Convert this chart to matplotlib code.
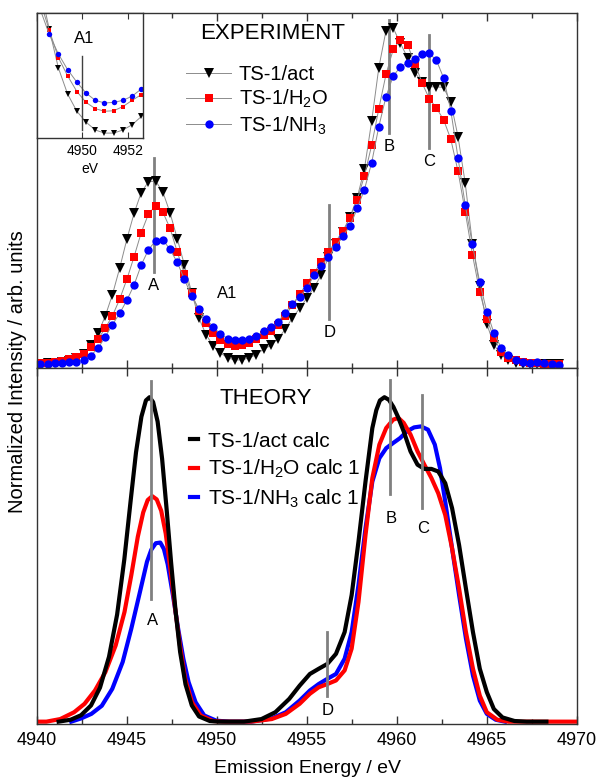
import matplotlib
matplotlib.use("Agg")
import matplotlib.pyplot as plt
from matplotlib.ticker import MultipleLocator

plt.rcParams['font.family'] = ['Liberation Sans', 'DejaVu Sans']
plt.rcParams['mathtext.fontset'] = 'custom'
plt.rcParams['mathtext.rm'] = 'Liberation Sans'
plt.rcParams['mathtext.it'] = 'Liberation Sans:italic'

# experimental spectra (normalized to TS-1/act maximum)
energy = [4940.19, 4940.59, 4940.99, 4941.39, 4941.79, 4942.19, 4942.59, 4942.99, 4943.39, 4943.79,
          4944.19, 4944.59, 4944.99, 4945.39, 4945.79, 4946.19, 4946.59, 4946.99, 4947.39, 4947.79,
          4948.19, 4948.59, 4948.99, 4949.39, 4949.79, 4950.19, 4950.59, 4950.99, 4951.39, 4951.79,
          4952.19, 4952.59, 4952.99, 4953.39, 4953.79, 4954.19, 4954.59, 4954.99, 4955.39, 4955.79,
          4956.19, 4956.59, 4956.99, 4957.39, 4957.79, 4958.19, 4958.59, 4958.99, 4959.39, 4959.79,
          4960.19, 4960.59, 4960.99, 4961.39, 4961.79, 4962.19, 4962.59, 4962.99, 4963.39, 4963.79,
          4964.19, 4964.59, 4964.99, 4965.39, 4965.79, 4966.19, 4966.59, 4966.99, 4967.39, 4967.79,
          4968.19, 4968.59, 4968.99]
exp_act = [0.004, 0.005, 0.007, 0.009, 0.013, 0.02, 0.033, 0.058, 0.094, 0.145,
           0.209, 0.287, 0.373, 0.450, 0.512, 0.544, 0.546, 0.514, 0.452, 0.375,
           0.297, 0.215, 0.14, 0.09, 0.057, 0.036, 0.021, 0.015, 0.015, 0.021,
           0.031, 0.047, 0.058, 0.078, 0.106, 0.14, 0.168, 0.198, 0.23, 0.267,
           0.32, 0.36, 0.395, 0.44, 0.497, 0.582, 0.723, 0.883, 0.993, 1.0,
           0.955, 0.912, 0.868, 0.84, 0.826, 0.826, 0.824, 0.78, 0.678, 0.54,
           0.36, 0.235, 0.122, 0.059, 0.03, 0.014, 0.006, 0.004, 0.003, 0.003,
           0.002, 0.002, 0.002]
exp_h2o = [0.005, 0.007, 0.009, 0.012, 0.017, 0.024, 0.033, 0.052, 0.077, 0.109,
           0.146, 0.195, 0.254, 0.321, 0.393, 0.448, 0.473, 0.454, 0.406, 0.336,
           0.27, 0.213, 0.16, 0.125, 0.095, 0.074, 0.062, 0.057, 0.058, 0.066,
           0.078, 0.089, 0.102, 0.118, 0.145, 0.178, 0.21, 0.242, 0.273, 0.307,
           0.336, 0.366, 0.398, 0.436, 0.49, 0.562, 0.652, 0.761, 0.863, 0.937,
           0.966, 0.95, 0.895, 0.838, 0.791, 0.763, 0.728, 0.67, 0.575, 0.455,
           0.328, 0.218, 0.137, 0.079, 0.04, 0.022, 0.015, 0.01, 0.007, 0.005,
           0.004, 0.003, 0.003]
exp_nh3 = [0.003, 0.004, 0.005, 0.006, 0.008, 0.01, 0.014, 0.028, 0.05, 0.083,
           0.12, 0.153, 0.192, 0.237, 0.297, 0.342, 0.369, 0.372, 0.343, 0.305,
           0.254, 0.205, 0.167, 0.137, 0.113, 0.092, 0.078, 0.073, 0.074, 0.078,
           0.086, 0.1, 0.112, 0.128, 0.155, 0.182, 0.203, 0.228, 0.266, 0.294,
           0.32, 0.35, 0.384, 0.412, 0.465, 0.521, 0.6, 0.708, 0.797, 0.858,
           0.885, 0.897, 0.908, 0.922, 0.925, 0.905, 0.852, 0.755, 0.615, 0.475,
           0.358, 0.247, 0.158, 0.094, 0.051, 0.03, 0.015, 0.008, 0.007, 0.008,
           0.005, 0.003, 0.0]

# calculated spectra
calc_act_E = [4941.2, 4941.87, 4942.45, 4943.0, 4943.5, 4944.0, 4944.45, 4944.85, 4945.2, 4945.5,
              4945.8, 4946.05, 4946.25, 4946.45, 4946.7, 4946.95, 4947.2, 4947.45, 4947.7, 4947.95,
              4948.25, 4948.6, 4949.0, 4949.6, 4950.1, 4951.5, 4952.47, 4953.24, 4954.01, 4954.59,
              4955.16, 4955.65, 4956.13, 4956.61, 4957.09, 4957.48, 4957.86, 4958.25, 4958.63, 4958.85,
              4959.05, 4959.3, 4959.55, 4959.8, 4960.05, 4960.37, 4960.75, 4961.14, 4961.52, 4961.91,
              4962.29, 4962.68, 4963.06, 4963.45, 4963.83, 4964.22, 4964.6, 4964.99, 4965.38, 4965.86,
              4966.53, 4967.2, 4968.3]
calc_act = [0.0, 0.006, 0.02, 0.05, 0.105, 0.2, 0.33, 0.5, 0.68, 0.83,
            0.94, 0.99, 1.0, 0.985, 0.925, 0.81, 0.655, 0.49, 0.34, 0.215,
            0.115, 0.05, 0.016, 0.002, 0.0, 0.0, 0.008, 0.029, 0.07, 0.111,
            0.147, 0.163, 0.178, 0.209, 0.276, 0.39, 0.555, 0.74, 0.905, 0.96,
            0.99, 1.0, 0.992, 0.97, 0.94, 0.895, 0.833, 0.792, 0.779, 0.779,
            0.771, 0.735, 0.658, 0.544, 0.41, 0.276, 0.163, 0.091, 0.039, 0.013,
            0.002, 0.0, 0.0]
calc_h2o_E = [4940.0, 4940.52, 4941.29, 4942.06, 4942.64, 4943.22, 4943.8, 4944.37, 4944.86, 4945.24,
              4945.6, 4945.9, 4946.15, 4946.4, 4946.65, 4946.9, 4947.15, 4947.4, 4947.65, 4947.94,
              4948.23, 4948.61, 4949.09, 4949.77, 4950.4, 4951.9, 4953.04, 4953.82, 4954.59, 4955.16,
              4955.65, 4956.13, 4956.61, 4957.09, 4957.48, 4957.86, 4958.25, 4958.63, 4959.02, 4959.4,
              4959.79, 4960.08, 4960.37, 4960.75, 4961.14, 4961.52, 4961.91, 4962.29, 4962.68, 4963.06,
              4963.45, 4963.83, 4964.22, 4964.6, 4964.99, 4965.57, 4966.2, 4970.0]
calc_h2o = [0.0, 0.0, 0.008, 0.029, 0.055, 0.096, 0.153, 0.235, 0.338, 0.452,
            0.57, 0.645, 0.683, 0.695, 0.685, 0.65, 0.58, 0.475, 0.359, 0.235,
            0.132, 0.06, 0.019, 0.002, 0.0, 0.0, 0.008, 0.024, 0.055, 0.086,
            0.106, 0.116, 0.127, 0.158, 0.225, 0.369, 0.575, 0.751, 0.854, 0.905,
            0.931, 0.936, 0.921, 0.885, 0.833, 0.792, 0.751, 0.704, 0.637, 0.534,
            0.41, 0.276, 0.163, 0.08, 0.029, 0.006, 0.0, 0.0]
calc_nh3_E = [4941.9, 4942.45, 4943.02, 4943.6, 4944.18, 4944.76, 4945.24, 4945.72, 4946.11, 4946.35,
              4946.6, 4946.85, 4947.05, 4947.26, 4947.55, 4947.84, 4948.13, 4948.42, 4948.81, 4949.29,
              4949.96, 4950.7, 4951.9, 4953.04, 4953.82, 4954.59, 4955.16, 4955.65, 4956.13, 4956.61,
              4957.09, 4957.48, 4957.86, 4958.25, 4958.63, 4959.02, 4959.4, 4959.79, 4960.17, 4960.56,
              4960.95, 4961.33, 4961.72, 4962.1, 4962.39, 4962.68, 4963.06, 4963.45, 4963.83, 4964.22,
              4964.6, 4964.99, 4965.48, 4966.0]
calc_nh3 = [0.0, 0.01, 0.024, 0.049, 0.101, 0.184, 0.287, 0.4, 0.493, 0.53,
            0.55, 0.552, 0.532, 0.485, 0.39, 0.287, 0.194, 0.122, 0.06, 0.019,
            0.003, 0.0, 0.0, 0.01, 0.029, 0.065, 0.096, 0.116, 0.132, 0.147,
            0.194, 0.276, 0.421, 0.596, 0.74, 0.812, 0.843, 0.859, 0.874, 0.895,
            0.907, 0.91, 0.9, 0.854, 0.781, 0.678, 0.534, 0.39, 0.256, 0.142,
            0.065, 0.024, 0.006, 0.0]

# feature markers: label, energy, line bottom, line top, label height
exp_marks = [('A', 4946.48, 0.277, 0.616, 0.237),
             ('D', 4956.24, 0.136, 0.475, 0.096),
             ('B', 4959.57, 0.688, 1.024, 0.648),
             ('C', 4961.79, 0.643, 0.979, 0.603)]
calc_marks = [('A', 4946.34, 0.379, 1.05, 0.312),
              ('D', 4956.09, 0.08, 0.276, 0.035),
              ('B', 4959.60, 0.701, 1.052, 0.625),
              ('C', 4961.39, 0.658, 1.008, 0.594)]

spine_col = '#333333'
mark_col = '#808080'

fig = plt.figure(figsize=(5.97, 7.80), dpi=100)
ax1 = fig.add_axes([0.062, 0.5282, 0.9045, 0.4551])
ax2 = fig.add_axes([0.062, 0.0723, 0.9045, 0.4559])


def style_x(ax, labels):
    ax.set_xlim(4940, 4970)
    ax.xaxis.set_major_locator(MultipleLocator(5))
    ax.xaxis.set_minor_locator(MultipleLocator(2.5))
    ax.tick_params(axis='x', which='both', direction='in', top=True, bottom=True,
                   color=spine_col, labelbottom=labels, labelsize=13, pad=6)
    ax.tick_params(axis='x', which='major', length=6, width=1)
    ax.tick_params(axis='x', which='minor', length=3.5, width=1)
    ax.tick_params(axis='y', left=False, labelleft=False)
    for s in ax.spines.values():
        s.set_color(spine_col)
        s.set_linewidth(1.0)


def draw_exp(ax, ms_scale):
    la, = ax.plot(energy, exp_act, color='#8c8c8c', lw=0.7, marker='v', ms=7 * ms_scale,
                  mfc='black', mec='black', mew=0, label='TS-1/act')
    lh, = ax.plot(energy, exp_h2o, color='#8c8c8c', lw=0.7, marker='s', ms=5.5 * ms_scale,
                  mfc='red', mec='red', mew=0, label='TS-1/H$_2$O')
    ln, = ax.plot(energy, exp_nh3, color='#8c8c8c', lw=0.7, marker='o', ms=6 * ms_scale,
                  mfc='blue', mec='blue', mew=0, label='TS-1/NH$_3$')
    return [la, lh, ln]


# ---- experiment
handles = draw_exp(ax1, 1.0)
for lab, e, y0, y1, yl in exp_marks:
    ax1.plot([e, e], [y0, y1], color=mark_col, lw=2, zorder=1)
    ax1.text(e, yl, lab, ha='center', va='center', fontsize=12)
ax1.text(4950.54, 0.213, 'A1', ha='center', va='center', fontsize=12)
ax1.set_ylim(-0.009, 1.045)
style_x(ax1, False)
ax1.text(0.437, 0.941, 'EXPERIMENT', transform=ax1.transAxes, ha='center', va='center',
         fontsize=16)
ax1.legend(handles=handles, loc='upper left', bbox_to_anchor=(0.243, 0.905), frameon=False,
           fontsize=14.5, handlelength=2.2, handletextpad=0.4, labelspacing=0.2,
           borderpad=0.4, numpoints=1)

# inset
axi = fig.add_axes([0.062, 0.8227, 0.17705, 0.16064])
draw_exp(axi, 0.65)
axi.plot([4950.0, 4950.0], [0.02, 0.163], color='#404040', lw=1)
axi.text(4950.1, 0.196, 'A1', ha='center', va='center', fontsize=12)
axi.set_xlim(4948.06, 4952.65)
axi.set_ylim(0.005, 0.246)
axi.set_xticks([4950, 4952])
axi.tick_params(axis='x', direction='in', top=True, bottom=True, length=4, labelsize=10,
                pad=4, color=spine_col)
axi.tick_params(axis='y', left=False, labelleft=False)
axi.set_xlabel('eV', fontsize=10, labelpad=3)
for s in axi.spines.values():
    s.set_color(spine_col)
    s.set_linewidth(1.0)

# ---- theory
ax2.plot(calc_nh3_E, calc_nh3, color='blue', lw=3, solid_joinstyle='round',
         label='TS-1/NH$_3$ calc 1')
ax2.plot(calc_h2o_E, calc_h2o, color='red', lw=3, solid_joinstyle='round',
         label='TS-1/H$_2$O calc 1')
ax2.plot(calc_act_E, calc_act, color='black', lw=3, solid_joinstyle='round',
         label='TS-1/act calc')
for lab, e, y0, y1, yl in calc_marks:
    ax2.plot([e, e], [y0, y1], color=mark_col, lw=2, zorder=3)
    ax2.text(e + 0.08, yl, lab, ha='center', va='center', fontsize=12)
ax2.set_ylim(-0.006, 1.09)
style_x(ax2, True)
ax2.text(0.424, 0.913, 'THEORY', transform=ax2.transAxes, ha='center', va='center',
         fontsize=16)
h, l = ax2.get_legend_handles_labels()
ax2.legend(h[::-1], l[::-1], loc='upper left', bbox_to_anchor=(0.248, 0.874), frameon=False,
           fontsize=15, handlelength=0.4, handletextpad=0.5, labelspacing=0.35, borderpad=0.4)
ax2.set_xlabel('Emission Energy / eV', fontsize=14, labelpad=8)

fig.text(0.03, 0.523, 'Normalized Intensity / arb. units', rotation=90, ha='center',
         va='center', fontsize=14.5)

fig.savefig('out.png', dpi=100)
